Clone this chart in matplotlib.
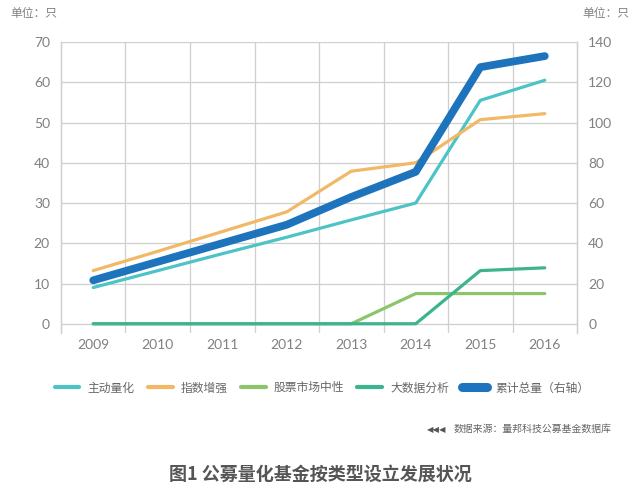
import numpy as np
import matplotlib.pyplot as plt
from matplotlib.lines import Line2D

plt.rcParams['font.family'] = ['Noto Sans CJK SC', 'DejaVu Sans']

# data
years = ['2009', '2010', '2011', '2012', '2013', '2014', '2015', '2016']
active = [9, 13.2, 17.4, 21.5, 25.8, 30, 55.5, 60.5]          # 主动量化
index_enh = [13.2, 18, 22.9, 27.8, 37.9, 40, 50.7, 52.2]       # 指数增强
neutral = [0, 0, 0, 0, 0, 7.5, 7.5, 7.5]                       # 股票市场中性
bigdata = [0, 0, 0, 0, 0, 0, 13.2, 13.9]                       # 大数据分析
total = [21.6, 30.8, 40, 49.2, 63, 75.5, 127.5, 133]           # 累计总量（右轴）

names = ['主动量化', '指数增强', '股票市场中性', '大数据分析', '累计总量（右轴）']
colors = ['#4cc3c7', '#f1b866', '#8cc46b', '#3bb48f', '#1d74bd']

x = np.arange(len(years))
grid_c = '#cfcfcf'
tick_c = '#808080'

fig = plt.figure(figsize=(6.4, 4.96), dpi=100)
ax = fig.add_axes([0.0953, 0.3286, 0.8063, 0.5867])
ax2 = ax.twinx()

ax.set_xlim(-0.5, 7.5)
ax.set_ylim(-2.3, 70)
ax2.set_ylim(-4.6, 140)

# grid
for v in range(0, 71, 10):
    ax.axhline(v, color=grid_c, lw=0.9, zorder=0)
for b in np.arange(0.5, 7, 1):
    ax.axvline(b, color=grid_c, lw=0.9, zorder=0)

ax.plot(x, active, color=colors[0], lw=2.3, zorder=3, solid_capstyle='round')
ax.plot(x, index_enh, color=colors[1], lw=2.3, zorder=3, solid_capstyle='round')
ax.plot(x, neutral, color=colors[2], lw=2.3, zorder=3, solid_capstyle='round')
ax.plot(x, bigdata, color=colors[3], lw=2.3, zorder=3, solid_capstyle='round')
ax2.plot(x, total, color=colors[4], lw=5.6, zorder=4, solid_capstyle='round')

for a in (ax, ax2):
    for s in ('top', 'bottom'):
        a.spines[s].set_visible(False)
    for s in ('left', 'right'):
        a.spines[s].set_color(grid_c)
        a.spines[s].set_linewidth(0.9)
    a.tick_params(axis='y', length=0, labelsize=10, labelcolor=tick_c, pad=8)

ax.set_yticks(range(0, 71, 10))
ax2.set_yticks(range(0, 141, 20))
ax.set_xticks(x)
ax.set_xticklabels(years)
ax.tick_params(axis='x', length=0, labelsize=10, labelcolor=tick_c, pad=4)

for lab in ax.get_yticklabels() + ax2.get_yticklabels() + ax.get_xticklabels():
    lab.set_family(['Lato', 'DejaVu Sans'])

fig.text(0.016, 0.972, '单位：只', fontsize=8.5, color=tick_c, va='center', ha='left')
fig.text(0.984, 0.972, '单位：只', fontsize=8.5, color=tick_c, va='center', ha='right')

handles = [Line2D([0], [0], color=c, lw=3, solid_capstyle='round') for c in colors[:4]]
handles.append(Line2D([0], [0], color=colors[4], lw=6.5, solid_capstyle='round'))
fig.legend(handles, names, loc='center', bbox_to_anchor=(0.503, 0.218), ncol=5,
           frameon=False, fontsize=8.5, handlelength=2.1, handletextpad=0.7,
           columnspacing=1.1, labelcolor='#666666')

fig.text(0.697, 0.135, '◀◀◀', fontsize=6, color='#555555', va='center', ha='right',
         family='DejaVu Sans')
fig.text(0.708, 0.135, '数据来源：量邦科技公募基金数据库', fontsize=7.1, color='#666666',
         va='center', ha='left')

fig.text(0.5, 0.044, '图1 公募量化基金按类型设立发展状况', fontsize=13, fontweight='bold',
         color='#555555', va='center', ha='center')

fig.savefig('out.png', dpi=100)
